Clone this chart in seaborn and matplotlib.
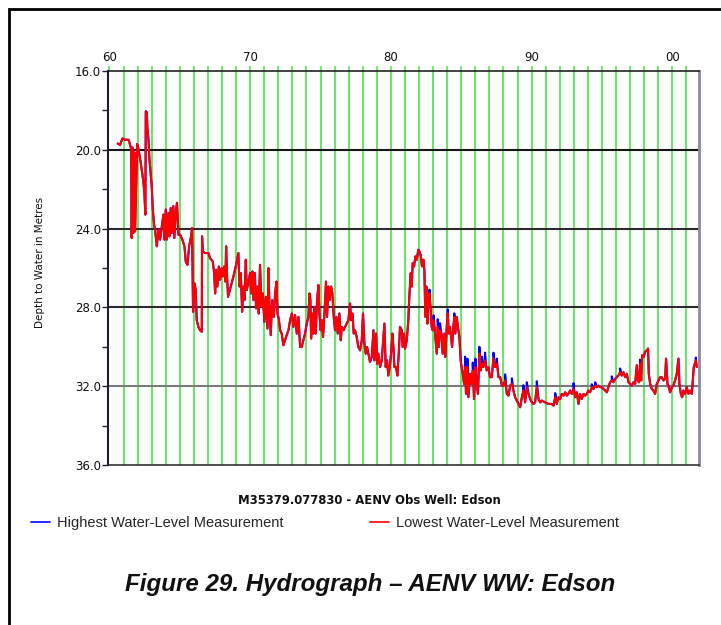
import numpy as np
import pandas as pd
import seaborn as sns
import matplotlib.pyplot as plt
from matplotlib.lines import Line2D
from matplotlib.patches import Rectangle

'''
Hydrograph of the Edson observation well: depth to water by year,
highest and lowest water-level measurements.
'''

lowest_years = [
    1960.59, 1960.75, 1960.92, 1961.11, 1961.35, 1961.42, 1961.54, 1961.58, 1961.63, 1961.70,
    1961.77, 1961.82, 1961.87, 1961.96, 1962.06, 1962.20, 1962.29, 1962.39, 1962.48, 1962.55,
    1962.58, 1962.65, 1962.70, 1962.77, 1962.84, 1962.91, 1963.00, 1963.08, 1963.17, 1963.24,
    1963.36, 1963.48, 1963.60, 1963.72, 1963.83, 1963.90, 1964.00, 1964.07, 1964.19, 1964.26,
    1964.35, 1964.43, 1964.54, 1964.61, 1964.71, 1964.80, 1964.90, 1965.02, 1965.18, 1965.33,
    1965.42, 1965.54, 1965.66, 1965.80, 1965.87, 1965.94, 1966.04, 1966.13, 1966.20, 1966.32,
    1966.44, 1966.56, 1966.58,
    1966.63, 1966.80, 1967.03, 1967.15, 1967.34, 1967.44, 1967.51, 1967.58, 1967.67, 1967.77,
    1967.86, 1967.96, 1968.05, 1968.15, 1968.24, 1968.29, 1968.36, 1968.43, 1968.62, 1968.81,
    1969.00, 1969.16, 1969.24, 1969.33, 1969.43, 1969.52, 1969.59, 1969.69, 1969.76, 1969.88,
    1969.99, 1970.07, 1970.16, 1970.23, 1970.33, 1970.42, 1970.52, 1970.61, 1970.70, 1970.80,
    1970.89, 1971.01, 1971.11, 1971.23, 1971.30, 1971.37, 1971.46, 1971.56, 1971.68, 1971.77,
    1971.87, 1971.94, 1972.03, 1972.13, 1972.24, 1972.36, 1972.55, 1972.72, 1972.84, 1972.96,
    1973.07, 1973.19, 1973.31, 1973.43, 1973.55,
    1973.66, 1973.78, 1973.90, 1974.02, 1974.14, 1974.21, 1974.28, 1974.33, 1974.42, 1974.49,
    1974.56, 1974.66, 1974.75, 1974.85, 1974.92, 1975.01, 1975.09, 1975.18, 1975.28, 1975.39,
    1975.46, 1975.56, 1975.65, 1975.75, 1975.84, 1975.94, 1976.03, 1976.13, 1976.22, 1976.34,
    1976.44, 1976.51, 1976.63, 1976.74, 1976.86, 1976.98, 1977.10, 1977.17, 1977.27, 1977.36,
    1977.45, 1977.57, 1977.69, 1977.81, 1977.93, 1978.02, 1978.12, 1978.21, 1978.31, 1978.40,
    1978.52, 1978.64, 1978.76, 1978.83, 1978.95, 1979.02, 1979.11, 1979.23, 1979.35, 1979.47,
    1979.54, 1979.63, 1979.73, 1979.82, 1979.92, 1980.01, 1980.11, 1980.18, 1980.25,
    1980.37, 1980.46, 1980.56, 1980.65, 1980.77, 1980.84, 1980.94, 1981.01, 1981.13, 1981.24,
    1981.31, 1981.41, 1981.48, 1981.55, 1981.65, 1981.74, 1981.84, 1981.95, 1982.03, 1982.12,
    1982.21, 1982.31, 1982.38, 1982.45, 1982.52, 1982.59, 1982.66, 1982.74, 1982.83, 1982.90,
    1982.97, 1983.04, 1983.14, 1983.26, 1983.33, 1983.40, 1983.49, 1983.59, 1983.68, 1983.78,
    1983.87, 1983.97, 1984.04, 1984.11, 1984.20, 1984.28, 1984.35, 1984.44, 1984.51, 1984.58,
    1984.68, 1984.80, 1984.87, 1984.96, 1985.03, 1985.11, 1985.20, 1985.27, 1985.34, 1985.44,
    1985.51, 1985.63, 1985.72, 1985.82, 1985.91, 1986.01, 1986.10, 1986.19, 1986.29, 1986.38,
    1986.48, 1986.57, 1986.69, 1986.81, 1986.93, 1987.05,
    1987.17, 1987.29, 1987.41, 1987.53, 1987.65, 1987.77, 1987.89, 1988.00, 1988.12, 1988.24,
    1988.36, 1988.48, 1988.60, 1988.71, 1988.83, 1988.95, 1989.07, 1989.19, 1989.31, 1989.42,
    1989.54, 1989.66, 1989.78, 1989.90, 1990.02, 1990.14, 1990.25, 1990.37, 1990.49, 1990.61,
    1990.73, 1990.96, 1991.20, 1991.44, 1991.56, 1991.68, 1991.79, 1991.91, 1992.03, 1992.15,
    1992.27, 1992.39, 1992.50, 1992.62, 1992.74, 1992.86, 1992.98, 1993.10, 1993.22, 1993.33,
    1993.45,
    1993.57, 1993.69, 1993.81, 1993.92, 1994.04, 1994.16, 1994.28, 1994.40, 1994.52, 1994.64,
    1994.75, 1994.87, 1994.99, 1995.11, 1995.23, 1995.35, 1995.46, 1995.58, 1995.70, 1995.82,
    1995.94, 1996.06, 1996.17, 1996.29, 1996.41, 1996.53, 1996.65, 1996.77, 1996.89, 1997.00,
    1997.12, 1997.24, 1997.36, 1997.48, 1997.55, 1997.64, 1997.71, 1997.79, 1997.86, 1997.95,
    1998.07, 1998.19, 1998.28, 1998.33, 1998.43, 1998.54, 1998.66, 1998.78, 1998.90, 1999.02,
    1999.14, 1999.25, 1999.37, 1999.49, 1999.56, 1999.66, 1999.75, 1999.85, 1999.97, 2000.08,
    2000.20, 2000.32, 2000.44, 2000.51, 2000.61, 2000.70, 2000.79, 2000.91, 2001.03, 2001.15,
    2001.27, 2001.39, 2001.46, 2001.53, 2001.60, 2001.67, 2001.74,
]
lowest_depths = [
    19.68, 19.76, 19.42, 19.49, 19.49, 19.63, 19.97, 24.48, 19.88, 24.22,
    20.14, 24.14, 22.52, 19.71, 19.97, 20.56, 20.99, 21.50, 22.18, 23.29,
    18.04, 18.09, 18.95, 19.46, 20.48, 21.07, 21.84, 23.03, 23.80, 24.05,
    24.90, 24.05, 24.56, 23.88, 23.29, 24.56, 23.03, 24.56, 23.20, 24.39,
    22.95, 24.22, 22.86, 24.48, 23.20, 22.69, 24.31, 24.31, 24.56, 24.90,
    25.67, 25.84, 24.90, 24.39, 23.97, 28.22, 26.77, 27.12, 28.65, 28.99,
    29.16, 29.24, 24.39,
    25.16, 25.24, 25.24, 25.50, 25.67, 26.26, 27.29, 26.09, 26.94, 25.92,
    26.60, 26.01, 26.43, 25.92, 26.69, 24.90, 26.52, 27.46, 26.94, 26.43,
    25.84, 25.24, 26.94, 26.26, 28.22, 26.94, 27.63, 25.58, 27.12, 26.69,
    26.26, 27.29, 26.18, 27.63, 26.26, 28.05, 26.94, 28.31, 25.84, 27.97,
    27.29, 28.73, 27.46, 29.07, 26.01, 27.97, 29.41, 27.63, 28.48, 27.29,
    26.69, 28.31, 28.56, 29.16, 29.33, 29.92, 29.50, 29.16, 28.65, 28.31,
    28.99, 28.39, 29.33, 28.48, 30.01,
    30.01, 29.67, 29.33, 28.82, 28.48, 27.29, 27.63, 29.58, 28.31, 29.33,
    27.97, 29.33, 27.71, 26.86, 28.31, 29.16, 28.65, 29.50, 28.31, 26.69,
    28.48, 26.94, 27.63, 26.94, 27.29, 28.48, 29.16, 28.48, 29.33, 28.31,
    29.67, 28.99, 29.16, 28.99, 28.82, 28.65, 27.80, 28.65, 28.31, 29.33,
    29.16, 29.50, 30.01, 30.18, 29.67, 28.31, 29.84, 30.35, 30.01, 30.35,
    30.77, 30.52, 29.16, 30.69, 29.33, 30.86, 30.35, 31.03, 30.69, 29.50,
    28.82, 31.03, 30.69, 31.46, 31.03, 30.35, 29.33, 30.01, 31.03,
    31.03, 31.46, 30.35, 28.99, 29.16, 30.01, 29.33, 30.09, 29.67, 28.65,
    27.46, 26.26, 26.94, 25.75, 25.92, 25.41, 25.58, 25.07, 25.16, 25.33,
    25.92, 25.58, 26.09, 28.48, 26.94, 28.82, 27.63, 27.29, 28.14, 28.99,
    29.16, 28.65, 29.33, 30.35, 28.99, 30.01, 29.16, 29.33, 30.35, 29.33,
    30.52, 28.99, 28.31, 29.33, 28.99, 29.50, 30.01, 28.99, 28.48, 29.33,
    28.48, 29.16, 29.50, 30.69, 31.03, 31.37, 31.88, 31.03, 32.39, 31.03,
    32.56, 31.37, 31.88, 31.20, 32.65, 31.03, 31.88, 32.39, 30.35, 31.20,
    30.86, 31.03, 30.69, 31.20, 31.03, 31.54,
    31.54, 30.60, 31.03, 30.86, 31.54, 31.54, 31.97, 31.97, 31.71, 32.39,
    32.48, 31.97, 31.88, 32.22, 32.56, 32.73, 32.90, 33.07, 32.56, 32.22,
    32.82, 32.05, 32.39, 32.65, 32.82, 32.90, 32.82, 32.05, 32.65, 32.82,
    32.73, 32.82, 32.90, 32.90, 32.99, 32.56, 32.90, 32.56, 32.65, 32.39,
    32.48, 32.31, 32.48, 32.39, 32.22, 32.39, 32.14, 32.56, 32.31, 32.90,
    32.39,
    32.65, 32.39, 32.48, 32.39, 32.22, 32.31, 32.05, 32.14, 31.97, 32.05,
    31.97, 32.05, 32.05, 32.14, 32.22, 32.31, 32.05, 31.80, 31.71, 31.80,
    31.63, 31.54, 31.46, 31.29, 31.46, 31.29, 31.54, 31.37, 31.80, 31.88,
    31.97, 31.80, 31.88, 30.94, 31.71, 31.80, 30.86, 31.71, 30.43, 30.52,
    30.26, 30.18, 30.09, 31.37, 31.88, 32.14, 32.22, 32.39, 31.88, 31.71,
    31.54, 31.54, 31.71, 31.63, 30.60, 31.88, 32.05, 32.31, 32.05, 31.97,
    31.71, 31.37, 30.60, 31.88, 32.39, 32.56, 32.22, 32.39, 32.05, 32.39,
    32.22, 32.39, 31.71, 31.03, 30.86, 30.69, 31.03,
]

# Highest water-level measurement: same readings as the lowest, except on
# the peaks where the blue trace shows above the red one (mostly after 1982)
highest_extra_years = [
    1982.74, 1983.04, 1983.33, 1983.49, 1984.04, 1984.51, 1985.27, 1985.44,
    1985.82, 1986.01, 1986.29, 1986.48, 1986.69, 1987.29, 1987.53, 1988.12,
    1988.60, 1989.42, 1989.66, 1990.37, 1991.68, 1992.98, 1994.28, 1994.52,
    1995.70, 1996.29, 1997.71, 2001.67,
]
highest_extra_depths = [
    27.10, 28.40, 28.60, 28.80, 28.10, 28.30, 30.50, 30.60,
    30.80, 30.60, 30.00, 30.50, 30.30, 30.30, 30.60, 31.40,
    31.60, 31.95, 31.80, 31.75, 32.35, 31.85, 31.90, 31.80,
    31.50, 31.10, 30.65, 30.55,
]

decade_ticks = [1960, 1970, 1980, 1990, 2000]
decade_labels = ['60', '70', '80', '90', '00']
depth_ticks = [16, 20, 24, 28, 32, 36]
depth_minor = [18, 22, 26, 30, 34]

HIGH_LABEL = 'Highest Water-Level Measurement'
LOW_LABEL = 'Lowest Water-Level Measurement'

##############################################################################


def build_frame():
    low = pd.DataFrame({'year': lowest_years, 'depth': lowest_depths})
    extra = pd.DataFrame({'year': highest_extra_years,
                          'depth': highest_extra_depths})
    high = pd.concat([low, extra]).sort_values('year', kind='stable')
    high['series'] = HIGH_LABEL
    low['series'] = LOW_LABEL
    return pd.concat([high, low], ignore_index=True)


def draw():
    sns.set_style('white')
    plt.rcParams['font.family'] = ['DejaVu Sans']

    fig = plt.figure(figsize=(7.21, 6.25), dpi=100)
    W, H = 721.0, 625.0
    ax = fig.add_axes([108.5 / W, 1 - 465 / H, (699 - 108.5) / W, (465 - 71) / H])

    # Yearly green grid, dark depth lines
    for yr in range(1961, 2002):
        ax.axvline(yr, color='#55e855', lw=1.3, zorder=1)
    for d, c in zip([20, 24, 28, 32], ['#151515', '#2b2b2b', '#2b2b2b', '#7a7a7a']):
        ax.axhline(d, color=c, lw=1.5, zorder=1.5)

    data = build_frame()
    sns.lineplot(data=data, x='year', y='depth', hue='series',
                 hue_order=[HIGH_LABEL, LOW_LABEL],
                 palette={HIGH_LABEL: '#0000ff', LOW_LABEL: '#ff0000'},
                 estimator=None, sort=False, linewidth=1.5, legend=False,
                 ax=ax, zorder=3)

    ax.set_xlim(1959.93, 2001.9)
    ax.set_ylim(36, 16)
    ax.set_xlabel('')
    ax.set_ylabel('')

    # Top year axis
    ax.xaxis.tick_top()
    ax.set_xticks(decade_ticks)
    ax.set_xticklabels(decade_labels)
    ax.set_xticks(list(range(1961, 2002)), minor=True)
    ax.tick_params(axis='x', which='both', top=True, bottom=False,
                   length=3.5, width=1.2, color='#55e855', direction='out',
                   labelsize=8.5, pad=1.5, labelcolor='#111111')

    # Depth axis
    ax.set_yticks(depth_ticks)
    ax.set_yticklabels(['%.1f' % d for d in depth_ticks])
    ax.set_yticks(depth_minor, minor=True)
    ax.tick_params(axis='y', which='both', left=True, length=4, width=1,
                   color='#20203a', direction='out', labelsize=8.5, pad=1.5,
                   labelcolor='#111111')

    ax.spines['left'].set(color='#1c1c3a', lw=1.5)
    ax.spines['top'].set(color='#222222', lw=1.2)
    ax.spines['bottom'].set(color='#333333', lw=1.2)
    ax.spines['right'].set(color='#8a8a9a', lw=2)

    fig.text(40 / W, 1 - 262 / H, 'Depth to Water in Metres', rotation=90,
             ha='center', va='center', fontsize=7.5, color='#111111')
    fig.text(369.5 / W, 1 - 500 / H, 'M35379.077830 - AENV Obs Well: Edson',
             ha='center', va='center', fontsize=8.4, fontweight='bold',
             color='#111111')

    handles = [Line2D([], [], color='#0000ff', lw=1.2),
               Line2D([], [], color='#ff0000', lw=1.2)]
    fig.legend(handles, [HIGH_LABEL, LOW_LABEL], loc='center left',
               bbox_to_anchor=(31 / W, 1 - 523 / H), ncol=2, frameon=False,
               prop={'family': 'Liberation Sans', 'size': 10.5},
               handlelength=1.3, handletextpad=0.5, columnspacing=5.9,
               borderaxespad=0, borderpad=0)

    fig.text(370.5 / W, 1 - 585 / H, 'Figure 29. Hydrograph \u2013 AENV WW: Edson',
             ha='center', va='center', fontsize=17.4, fontweight='bold',
             fontstyle='italic', family='Liberation Sans', color='#111111')

    # Page frame around the figure
    frame = Rectangle((9 / W, -0.5), 2, 0.5 + 1 - 9 / H,
                      transform=fig.transFigure, fill=False,
                      edgecolor='black', lw=2)
    fig.add_artist(frame)

    fig.savefig('out.png', dpi=100)


if __name__ == "__main__":
    draw()
